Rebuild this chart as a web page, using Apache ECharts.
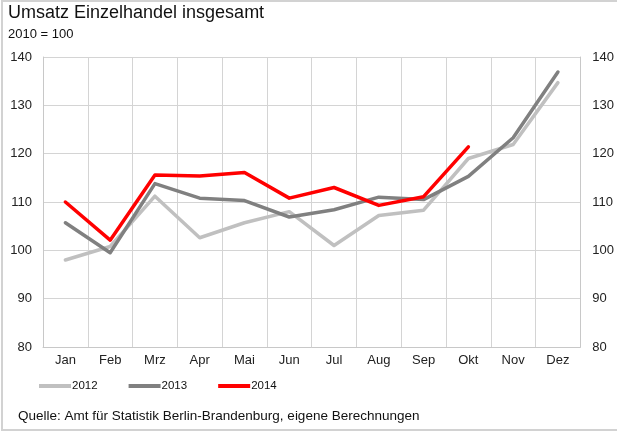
<!DOCTYPE html>
<html>
<head>
<meta charset="utf-8">
<script src="https://cdn.jsdelivr.net/npm/echarts@6/dist/echarts.min.js"></script>
<style>html,body{margin:0;padding:0;background:#fff}#c{width:617px;height:432px}</style>
</head>
<body>
<div id="c"></div>
<script>
var months = ['Jan','Feb','Mrz','Apr','Mai','Jun','Jul','Aug','Sep','Okt','Nov','Dez'];
var s2012 = [98.0, 100.8, 111.2, 102.6, 105.7, 108.0, 101.0, 107.2, 108.3, 119.0, 121.9, 134.7];
var s2013 = [105.7, 99.5, 113.8, 110.8, 110.3, 106.9, 108.4, 111.0, 110.5, 115.3, 123.3, 136.9];
var s2014 = [110.0, 102.1, 115.6, 115.4, 116.1, 110.8, 113.0, 109.3, 111.1, 121.4];
var yTicks = [80, 90, 100, 110, 120, 130, 140];
var ff = '"Liberation Sans", Arial, sans-serif';

var chart = echarts.init(document.getElementById('c'), null, {renderer: 'canvas'});
function line(name, data, color) {
  return {
    name: name, type: 'line', data: data, symbol: 'none', smooth: false,
    lineStyle: {color: color, width: 3.5, cap: 'round', join: 'round'},
    itemStyle: {color: color}, z: 3
  };
}
var yAxisBase = {
  type: 'value', min: yTicks[0], max: yTicks[yTicks.length - 1], interval: 10,
  axisLine: {show: true, lineStyle: {color: '#c8c8c8', width: 1}},
  axisTick: {show: false},
  splitLine: {show: true, lineStyle: {color: '#d4d4d4', width: 1}},
  axisLabel: {color: '#222', fontFamily: ff, fontSize: 13}
};
chart.setOption({
  animation: false,
  backgroundColor: '#fff',
  textStyle: {fontFamily: ff},
  title: [
    {text: 'Umsatz Einzelhandel insgesamt', left: 8, top: 4, padding: 0,
      textStyle: {fontFamily: ff, fontSize: 18, fontWeight: 'normal', color: '#111'}},
    {text: '2010 = 100', left: 8, top: 28, padding: 0,
      textStyle: {fontFamily: ff, fontSize: 13, fontWeight: 'normal', color: '#111'}},
    {text: 'Quelle: Amt für Statistik Berlin-Brandenburg, eigene Berechnungen', left: 18, top: 409, padding: 0,
      textStyle: {fontFamily: ff, fontSize: 13.5, fontWeight: 'normal', color: '#111'}}
  ],
  legend: {
    left: 39, top: 380, padding: 0, icon: 'rect', itemWidth: 32, itemHeight: 4, itemGap: 31,
    textStyle: {fontFamily: ff, fontSize: 11.5, color: '#111', padding: [0, 0, 0, -4]},
    data: ['2012', '2013', '2014']
  },
  grid: {left: 43, right: 35, top: 57, bottom: 85, containLabel: false},
  xAxis: {
    type: 'category', data: months, boundaryGap: true,
    axisLine: {show: true, lineStyle: {color: '#c8c8c8'}},
    axisTick: {show: false},
    splitLine: {show: true, lineStyle: {color: '#d4d4d4', width: 1}},
    axisLabel: {color: '#222', fontFamily: ff, fontSize: 13, margin: 7, interval: 0}
  },
  yAxis: [
    Object.assign({}, yAxisBase, {position: 'left', axisLabel: Object.assign({}, yAxisBase.axisLabel, {margin: 11})}),
    Object.assign({}, yAxisBase, {position: 'right', splitLine: {show: false}, axisLabel: Object.assign({}, yAxisBase.axisLabel, {margin: 12})})
  ],
  graphic: [{
    type: 'rect', shape: {x: 2, y: 1, width: 640, height: 429},
    style: {fill: 'none', stroke: '#d2d2d2', lineWidth: 2}, silent: true, z: -1
  }],
  series: [
    line('2012', s2012, '#c0c0c0'),
    line('2013', s2013, '#808080'),
    line('2014', s2014, '#ff0000')
  ]
});
</script>
</body>
</html>
